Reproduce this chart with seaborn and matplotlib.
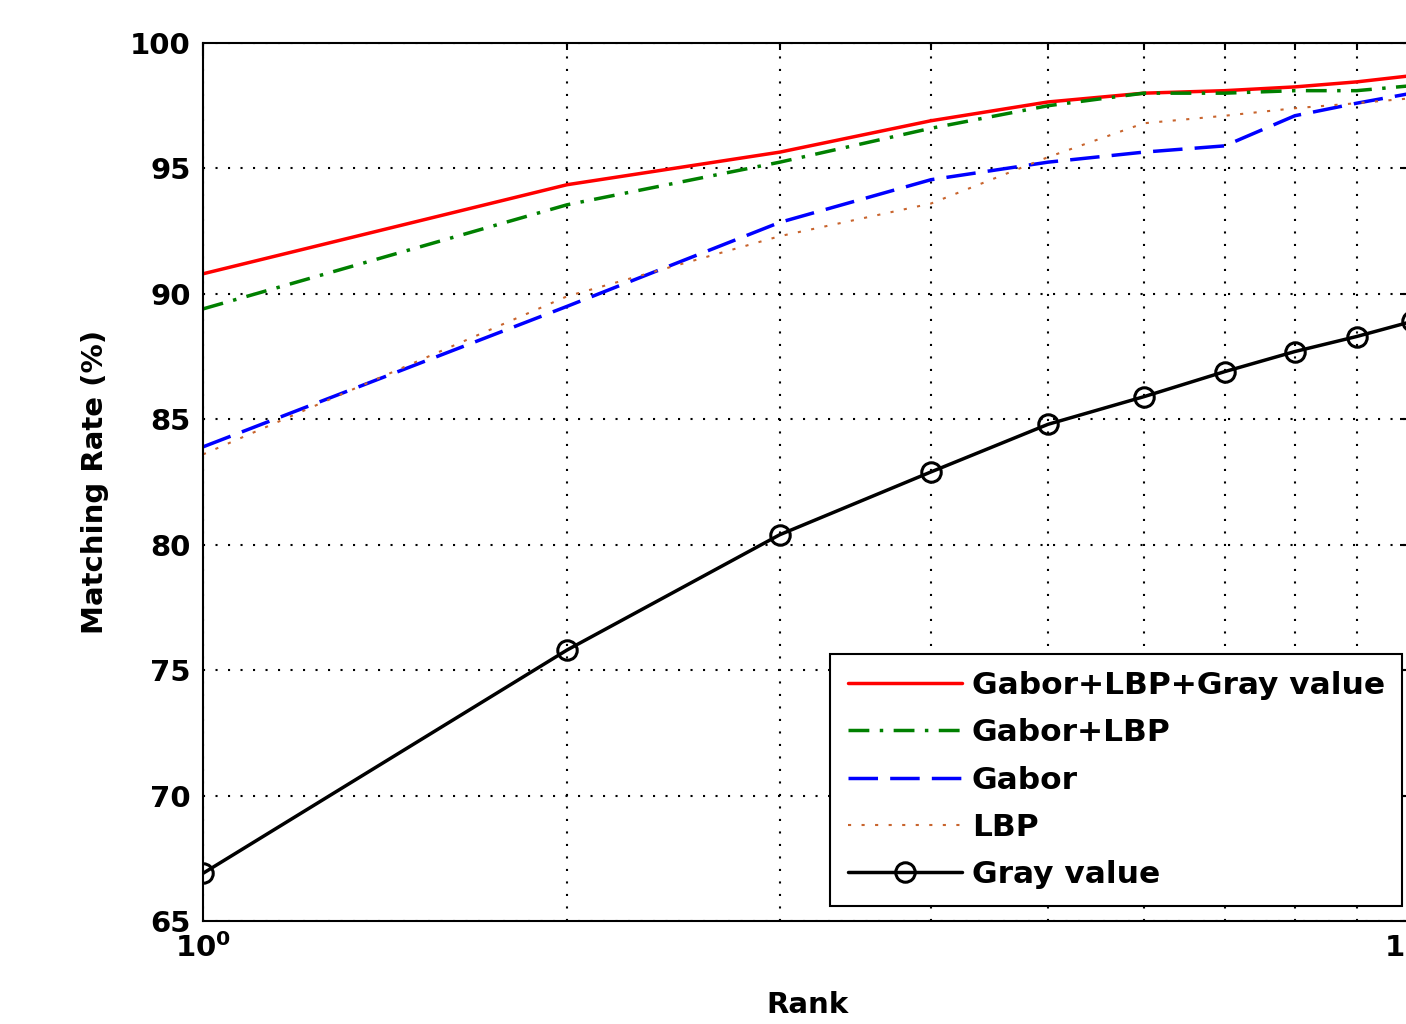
import numpy as np
import pandas as pd
import seaborn as sns
import matplotlib
matplotlib.use("Agg")
import matplotlib.pyplot as plt
from matplotlib.ticker import FixedLocator, NullFormatter, FixedFormatter

# data
ranks = [1, 2, 3, 4, 5, 6, 7, 8, 9, 10]
fused = [90.8, 94.35, 95.65, 96.9, 97.65, 98.0, 98.1, 98.25, 98.45, 98.7]
gabor_lbp = [89.4, 93.55, 95.25, 96.6, 97.5, 98.0, 98.0, 98.1, 98.1, 98.3]
gabor = [83.9, 89.5, 92.85, 94.55, 95.25, 95.65, 95.9, 97.1, 97.6, 98.0]
lbp = [83.6, 89.9, 92.3, 93.6, 95.45, 96.8, 97.1, 97.4, 97.6, 97.8]
gray = [66.9, 75.8, 80.4, 82.9, 84.8, 85.9, 86.9, 87.7, 88.3, 88.9]

labels = ["Gabor+LBP+Gray value", "Gabor+LBP", "Gabor", "LBP", "Gray value"]
yticks = [65, 70, 75, 80, 85, 90, 95, 100]

sns.set_style("white")
plt.rcParams["font.family"] = ["DejaVu Sans"]
plt.rcParams["font.weight"] = "bold"
plt.rcParams["mathtext.default"] = "bf"
plt.rcParams["text.color"] = "black"
plt.rcParams["axes.labelcolor"] = "black"

FS = 21
LEG_FS = 22.5

fig = plt.figure(figsize=(14.06, 10.24), dpi=100)
ax = fig.add_axes([203 / 1406, 103 / 1024, 1209 / 1406, 878 / 1024])

# series
sns.lineplot(x=ranks, y=fused, ax=ax, color="#ff0000", linewidth=2.5, label=labels[0])
sns.lineplot(x=ranks, y=gabor_lbp, ax=ax, color="#008000", linewidth=2.5, label=labels[1])
ax.lines[-1].set_dashes((6, 3, 1, 3))
sns.lineplot(x=ranks, y=gabor, ax=ax, color="#0000ff", linewidth=2.5, label=labels[2])
ax.lines[-1].set_dashes((8.5, 3.5))
sns.lineplot(x=ranks, y=lbp, ax=ax, color="#c8642d", linewidth=1.5, label=labels[3])
ax.lines[-1].set_dashes((1.5, 5))
sns.lineplot(x=ranks, y=gray, ax=ax, color="black", linewidth=2.5, label=labels[4],
             marker="o", markersize=14, markerfacecolor="none",
             markeredgecolor="black", markeredgewidth=2.2)

# axes
ax.set_xscale("log")
ax.set_xlim(1, 10)
ax.set_ylim(65, 100)
ax.xaxis.set_major_locator(FixedLocator([1, 10]))
ax.xaxis.set_major_formatter(FixedFormatter([r"$10^{0}$", r"$10^{1}$"]))
ax.xaxis.set_minor_locator(FixedLocator([2, 3, 4, 5, 6, 7, 8, 9]))
ax.xaxis.set_minor_formatter(NullFormatter())
ax.set_yticks(yticks)
ax.set_yticklabels([str(v) for v in yticks])

ax.tick_params(which="both", direction="in", top=True, right=True, colors="black",
               labelsize=FS, width=1.5)
ax.tick_params(which="major", length=9, pad=9)
ax.tick_params(which="minor", length=5)

ax.grid(True, which="both", axis="x", color="black", linewidth=1.5, linestyle=(0, (1, 5)))
ax.grid(True, which="major", axis="y", color="black", linewidth=1.5, linestyle=(0, (1, 5)))

for s in ax.spines.values():
    s.set_color("black")
    s.set_linewidth(1.5)

ax.set_xlabel("Rank", fontsize=FS, fontweight="bold")
ax.set_ylabel("Matching Rate (%)", fontsize=FS, fontweight="bold")
ax.xaxis.set_label_coords(0.5, -0.08)
ax.yaxis.set_label_coords(-0.078, 0.5)

leg = ax.legend(loc="lower right", bbox_to_anchor=(0.9917, 0.0171), borderaxespad=0,
                fontsize=LEG_FS, frameon=True, fancybox=False, handlelength=3.65,
                handletextpad=0.32, labelspacing=0.58, borderpad=0.55)
leg.get_frame().set_edgecolor("black")
leg.get_frame().set_linewidth(1.5)
leg.get_frame().set_alpha(1)
for t in leg.get_texts():
    t.set_color("black")

fig.savefig("out.png", dpi=100)
